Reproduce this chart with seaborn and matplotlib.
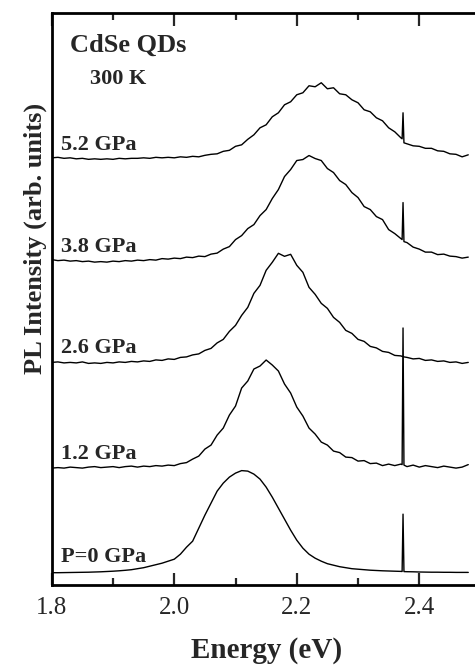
import numpy as np
import pandas as pd
import seaborn as sns
import matplotlib.pyplot as plt
from matplotlib.ticker import MultipleLocator

# photon energy grid (eV), with three extra points around the sharp line at ~2.3735 eV
energy = [1.80, 1.81, 1.82, 1.83, 1.84, 1.85, 1.86, 1.87, 1.88, 1.89,
          1.90, 1.91, 1.92, 1.93, 1.94, 1.95, 1.96, 1.97, 1.98, 1.99,
          2.00, 2.01, 2.02, 2.03, 2.04, 2.05, 2.06, 2.07, 2.08, 2.09,
          2.10, 2.11, 2.12, 2.13, 2.14, 2.15, 2.16, 2.17, 2.18, 2.19,
          2.20, 2.21, 2.22, 2.23, 2.24, 2.25, 2.26, 2.27, 2.28, 2.29,
          2.30, 2.31, 2.32, 2.33, 2.34, 2.35, 2.36, 2.37,
          2.372, 2.3735, 2.375,
          2.38, 2.39, 2.40, 2.41, 2.42, 2.43, 2.44, 2.45, 2.46, 2.47, 2.48]

# PL intensity (arb. units)
pl_0gpa = [0.5, 0.5, 0.6, 0.7, 0.8, 0.9, 1.0, 1.2, 1.4, 1.7,
           2.0, 2.4, 2.9, 3.5, 4.5, 5.5, 7.0, 8.5, 10.0, 12.0,
           14.0, 19.0, 26.0, 32.0, 45.0, 58.0, 70.0, 82.0, 90.0, 96.0,
           100.0, 102.5, 102.0, 99.0, 94.0, 86.0, 76.0, 65.0, 54.0, 43.0,
           33.0, 25.0, 19.0, 15.0, 12.0, 9.5, 8.0, 6.5, 5.5, 4.5,
           4.0, 3.5, 3.0, 2.7, 2.4, 2.2, 2.0, 1.8,
           1.7, 59.0, 1.6,
           1.5, 1.4, 1.2, 1.1, 1.0, 1.0, 0.9, 0.9, 0.8, 0.8, 0.8]

pl_12gpa = [0.0, 0.5, 0.0, 1.0, 0.5, 0.0, 1.0, 1.5, 0.5, 1.0,
            1.5, 0.5, 1.5, 2.0, 1.0, 2.0, 1.5, 2.5, 2.0, 3.0,
            2.5, 4.5, 5.5, 9.0, 12.0, 19.0, 23.0, 33.0, 40.0, 53.0,
            62.0, 80.0, 87.0, 99.0, 102.0, 108.0, 103.0, 97.0, 84.0, 75.0,
            61.0, 52.0, 40.0, 34.0, 26.0, 23.0, 17.0, 15.5, 11.0, 10.5,
            7.0, 7.5, 4.5, 5.0, 2.5, 4.0, 2.5, 4.0,
            3.5, 140.0, 3.0,
            1.5, 3.0, 1.0, 2.5, 1.5, 0.5, 2.0, 1.0, 0.0, 1.0, 3.5]

pl_26gpa = [0.0, 0.5, -0.5, 0.0, -0.5, 0.5, -1.0, -0.5, -1.0, 0.0,
            -0.5, 0.5, 0.0, 1.0, 0.5, 1.5, 1.0, 2.5, 2.0, 3.5,
            3.0, 5.0, 5.5, 7.5, 8.5, 12.0, 14.0, 19.5, 23.0, 31.0,
            37.0, 47.0, 55.0, 69.0, 77.0, 92.0, 100.0, 109.0, 106.0, 108.0,
            97.0, 90.0, 75.0, 68.0, 59.0, 54.0, 45.0, 40.0, 32.0, 29.0,
            23.0, 21.0, 16.0, 14.5, 11.0, 10.0, 7.0, 6.5,
            6.0, 6.0, 5.5,
            5.0, 3.5, 4.0, 2.0, 2.5, 1.0, 1.5, 0.0, 0.5, -1.0, 0.0]

pl_38gpa = [1.0, 0.0, 0.5, -0.5, 0.0, -1.0, -0.5, -1.5, -1.0, -1.5,
            -0.5, -1.0, 0.0, -0.5, 0.5, 0.0, 1.0, 0.5, 2.0, 1.5,
            2.5, 2.0, 3.5, 3.0, 4.5, 4.0, 6.5, 7.5, 11.5, 14.0,
            21.0, 25.0, 32.0, 36.0, 45.0, 51.0, 62.0, 71.0, 84.0, 91.0,
            100.0, 101.0, 105.0, 102.0, 100.0, 92.0, 88.0, 80.0, 76.0, 68.0,
            63.0, 54.0, 51.0, 44.0, 41.0, 31.0, 27.0, 22.0,
            21.0, 58.0, 19.0,
            18.0, 13.5, 11.5, 8.5, 8.5, 6.0, 6.5, 4.5, 4.0, 2.5, 3.5]

pl_52gpa = [1.0, 1.5, 0.5, 1.0, 0.0, 0.5, -0.5, 0.0, -0.5, 0.0,
            -0.5, 0.5, 0.0, 0.5, 0.5, 1.0, 0.5, 1.5, 1.0, 1.5,
            1.0, 2.0, 1.5, 2.5, 2.0, 3.5, 4.5, 5.0, 7.5, 8.5,
            12.5, 14.0, 19.5, 24.0, 31.0, 34.0, 42.0, 46.0, 54.0, 57.0,
            64.0, 66.0, 73.0, 72.0, 76.0, 70.0, 71.0, 65.0, 64.0, 59.0,
            56.0, 49.0, 47.0, 41.0, 38.0, 31.0, 27.0, 21.0,
            20.0, 46.0, 16.0,
            15.0, 13.0, 12.5, 10.5, 10.5, 8.0, 7.5, 5.0, 4.5, 2.0, 4.0]

labels = ['P=0 GPa', '1.2 GPa', '2.6 GPa', '3.8 GPa', '5.2 GPa']
spectra = [pl_0gpa, pl_12gpa, pl_26gpa, pl_38gpa, pl_52gpa]

# vertical stacking of the spectra
offsets = [11.7, 116.7, 222.3, 324.0, 425.7]
label_y = [23, 126, 232, 333, 435]

rows = []
for lab, spec, off in zip(labels, spectra, offsets):
    for e, v in zip(energy, spec):
        rows.append({'energy': e, 'signal': v + off, 'pressure': lab})
data = pd.DataFrame(rows)

sns.set_style('ticks')
plt.rcParams['font.family'] = ['Liberation Serif', 'DejaVu Serif']

fig = plt.figure(figsize=(4.75, 6.7), dpi=100)
ax = fig.add_axes([0.109, 0.127, 0.9026, 0.853])

sns.lineplot(data=data, x='energy', y='signal', units='pressure',
             estimator=None, color='black', lw=1.0, ax=ax, legend=False)

ax.set_xlim(1.8, 2.5)
ax.set_ylim(0, 571)
ax.xaxis.set_minor_locator(MultipleLocator(0.1))
ax.set_xticks([1.8, 2.0, 2.2, 2.4])
ax.set_xticklabels(['1.8', '2.0', '2.2', '2.4'])
ax.set_yticks([])
ax.tick_params(axis='x', which='major', direction='in', length=9, width=1.6,
               top=True, labelsize=18, pad=9)
ax.tick_params(axis='x', which='minor', direction='in', length=5, width=1.6,
               top=True)
for sp in ax.spines.values():
    sp.set_linewidth(2.0)
    sp.set_color('black')

ax.set_xlabel('Energy (eV)', fontsize=21, fontweight='bold', labelpad=13)
ax.set_ylabel('PL Intensity (arb. units)', fontsize=19, fontweight='bold')
ax.yaxis.set_label_coords(-0.012, 0.606)

for lab, yy in zip(labels, label_y):
    ax.text(1.8145, yy, lab, fontsize=16, fontweight='bold', va='baseline')
ax.text(1.830, 533, 'CdSe QDs', fontsize=19, fontweight='bold', va='baseline')
ax.text(1.8625, 500, '300 K', fontsize=16, fontweight='bold', va='baseline')

fig.savefig('out.png', dpi=100)
